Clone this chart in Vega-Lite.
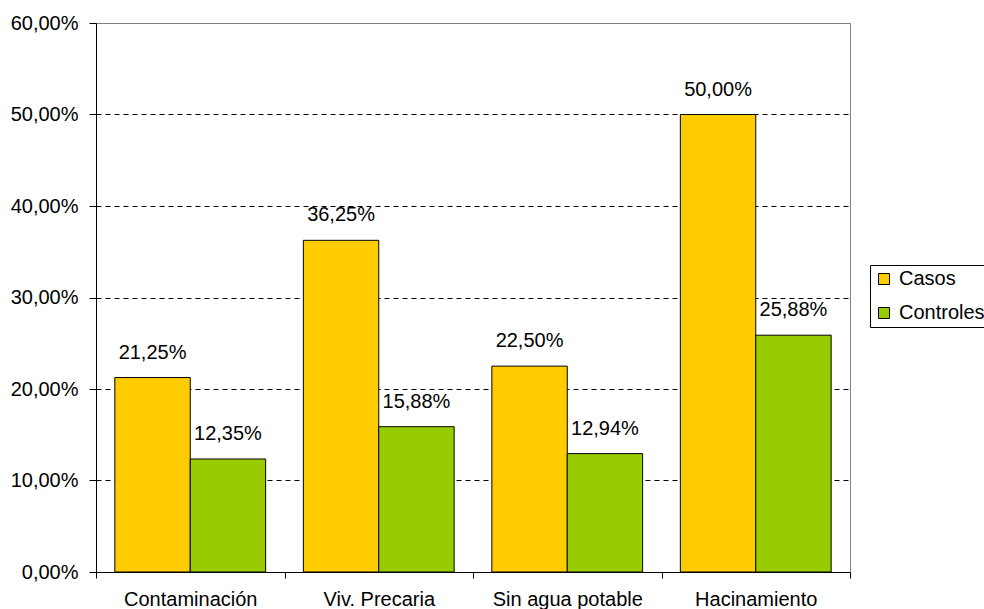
{
  "$schema": "https://vega.github.io/schema/vega-lite/v6.json",
  "autosize": "none",
  "width": 754,
  "height": 549,
  "padding": {"left": 96, "top": 23, "right": 134, "bottom": 37},
  "background": "white",
  "config": {
    "locale": {"number": {"decimal": ",", "thousands": ".", "grouping": [3], "currency": ["", " €"]}},
    "font": "Liberation Sans",
    "view": {"stroke": "#808080", "strokeWidth": 1},
    "axis": {"labelFont": "Liberation Sans", "labelColor": "black", "domainColor": "black", "tickColor": "black"}
  },
  "data": {
    "values": [
      {"factor": "Contaminación", "grupo": "Casos", "pct": 0.2125},
      {"factor": "Contaminación", "grupo": "Controles", "pct": 0.1235},
      {"factor": "Viv. Precaria", "grupo": "Casos", "pct": 0.3625},
      {"factor": "Viv. Precaria", "grupo": "Controles", "pct": 0.1588},
      {"factor": "Sin agua potable", "grupo": "Casos", "pct": 0.225},
      {"factor": "Sin agua potable", "grupo": "Controles", "pct": 0.1294},
      {"factor": "Hacinamiento", "grupo": "Casos", "pct": 0.5},
      {"factor": "Hacinamiento", "grupo": "Controles", "pct": 0.2588}
    ]
  },
  "encoding": {
    "x": {
      "field": "factor",
      "type": "nominal",
      "sort": null,
      "scale": {"paddingInner": 0, "paddingOuter": 0},
      "axis": {
        "title": null,
        "labelAngle": 0,
        "labelFontSize": 20,
        "labelPadding": 11,
        "tickBand": "extent",
        "tickSize": 6,
        "domainWidth": 1
      }
    },
    "xOffset": {
      "field": "grupo",
      "type": "nominal",
      "scale": {"paddingInner": 0, "paddingOuter": 0.25}
    },
    "y": {
      "field": "pct",
      "type": "quantitative",
      "scale": {"domain": [0, 0.6], "nice": false},
      "axis": {
        "title": null,
        "format": ".2%",
        "values": [0, 0.1, 0.2, 0.3, 0.4, 0.5, 0.6],
        "labelFontSize": 20,
        "labelPadding": 11,
        "tickSize": 7,
        "grid": true,
        "gridColor": {"condition": {"test": "datum.value >= 0.6", "value": "#808080"}, "value": "black"},
        "gridDash": {"condition": {"test": "datum.value >= 0.6", "value": []}, "value": [5, 4]},
        "gridOpacity": {"condition": {"test": "datum.value <= 0", "value": 0}, "value": 1}
      }
    }
  },
  "layer": [
    {
      "mark": {"type": "bar", "stroke": "black", "strokeWidth": 1},
      "encoding": {
        "color": {
          "field": "grupo",
          "type": "nominal",
          "scale": {"domain": ["Casos", "Controles"], "range": ["#FFCC00", "#99CC00"]},
          "legend": {
            "title": null,
            "orient": "none",
            "legendX": 774,
            "legendY": 242,
            "symbolType": "square",
            "symbolSize": 121,
            "symbolStrokeColor": "black",
            "symbolStrokeWidth": 1,
            "labelFontSize": 20,
            "labelColor": "black",
            "labelFont": "Liberation Sans",
            "labelOffset": 5,
            "rowPadding": 14,
            "padding": 4,
            "strokeColor": "black",
            "fillColor": "white"
          }
        }
      }
    },
    {
      "mark": {"type": "text", "baseline": "alphabetic", "dy": -19, "fontSize": 20, "color": "black", "font": "Liberation Sans"},
      "encoding": {
        "text": {"field": "pct", "type": "quantitative", "format": ".2%"}
      }
    }
  ]
}
